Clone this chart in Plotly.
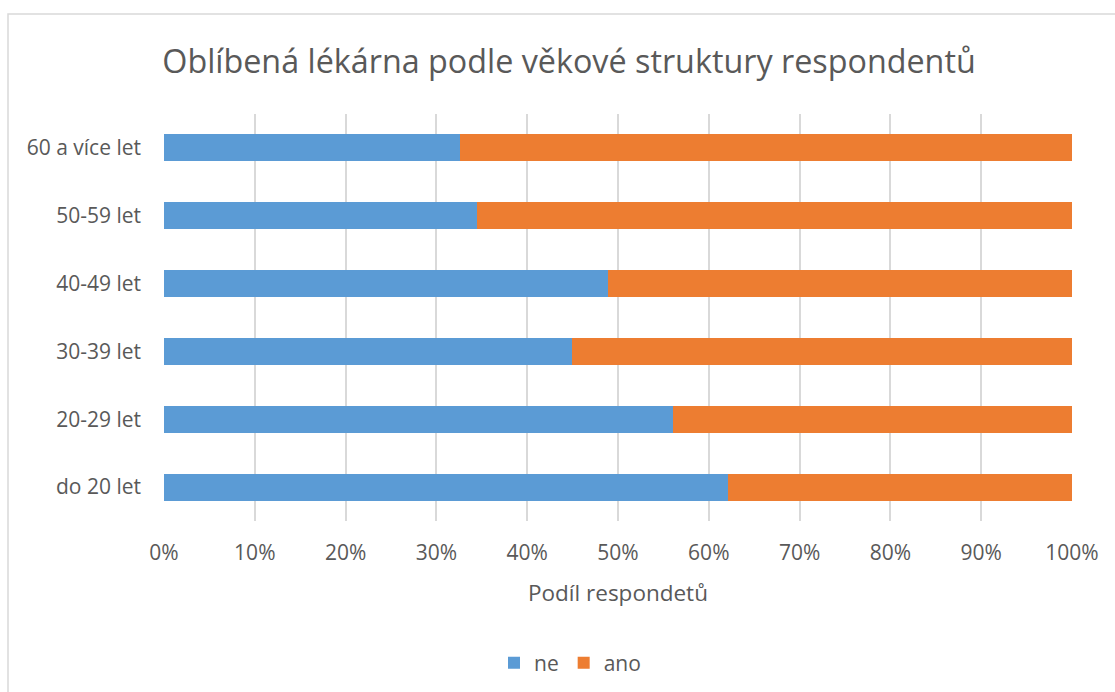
import plotly.graph_objects as go

categories = ["do 20 let", "20-29 let", "30-39 let", "40-49 let", "50-59 let", "60 a více let"]
ne = [0.621, 0.561, 0.449, 0.489, 0.345, 0.326]
ano = [1 - v for v in ne]
x_ticks = [0, 0.1, 0.2, 0.3, 0.4, 0.5, 0.6, 0.7, 0.8, 0.9, 1.0]
x_tick_labels = ["0%", "10%", "20%", "30%", "40%", "50%", "60%", "70%", "80%", "90%", "100%"]

W, H = 1115, 692
L, R, T, B = 164, 43, 114, 171
pw, ph = W - L - R, H - T - B

def px(x):
    return (x - L) / pw

def py(y):
    return (H - B - y) / ph

txt = "#595959"
font = "Open Sans"

fig = go.Figure()
fig.add_trace(go.Bar(y=categories, x=ne, name="ne", orientation="h",
                     marker=dict(color="#5B9BD5", line=dict(width=0))))
fig.add_trace(go.Bar(y=categories, x=ano, name="ano", orientation="h",
                     marker=dict(color="#ED7D31", line=dict(width=0))))

fig.update_layout(
    width=W, height=H,
    margin=dict(l=L, r=R, t=T, b=B, autoexpand=False),
    barmode="stack", bargap=0.6,
    paper_bgcolor="white", plot_bgcolor="white",
    font=dict(family=font, color=txt, size=21),
    title=dict(text="Oblíbená lékárna podle věkové struktury respondentů",
               x=569 / W, xanchor="center", y=1 - 62 / H, yanchor="middle",
               font=dict(size=32.3, color=txt, family=font)),
    xaxis=dict(range=[0, 1], tickvals=x_ticks, ticktext=x_tick_labels,
               showgrid=True, gridcolor="#D9D9D9", gridwidth=1.5,
               zeroline=False, showline=False, ticks="",
               ticklabelstandoff=17, tickfont=dict(size=21),
               title=dict(text="Podíl respondetů", font=dict(size=22.5, color=txt), standoff=20),
               fixedrange=True),
    yaxis=dict(showgrid=False, zeroline=False, showline=False, ticks="",
               ticklabelstandoff=22, tickfont=dict(size=21), fixedrange=True),
    legend=dict(orientation="h", x=px(570), xanchor="center",
                y=py(663), yanchor="middle", font=dict(size=21, color=txt),
                traceorder="normal", itemwidth=30),
    showlegend=True,
    shapes=[dict(type="rect", xref="paper", yref="paper",
                 x0=px(8), x1=px(1125), y0=py(700), y1=py(14),
                 line=dict(color="#D9D9D9", width=1.5), fillcolor="rgba(0,0,0,0)",
                 layer="below")],
)

fig.write_html("out.html")
